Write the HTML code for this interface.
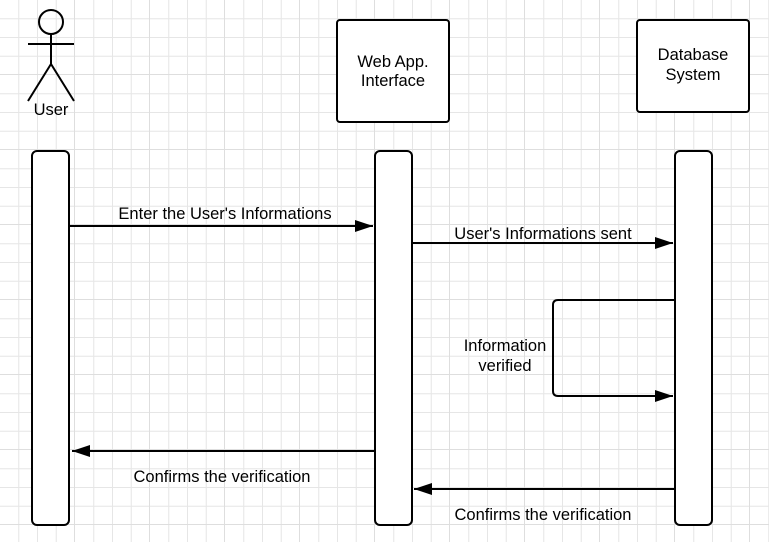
<!DOCTYPE html>
<html><head><style>body{margin:0;background:#fff}svg{display:block}text{font-family:"Liberation Sans",sans-serif;font-size:16.5px;fill:#000}</style></head><body>
<svg width="769" height="542" xmlns="http://www.w3.org/2000/svg">
<defs>
<pattern id="g" width="75" height="75" patternUnits="userSpaceOnUse">
<path d="M18.75 0V75M37.5 0V75M56.25 0V75M0 18.75H75M0 37.5H75M0 56.25H75" stroke="#e6e6e6" stroke-width="1" fill="none"/>
<path d="M75 0V75M0 75H75" stroke="#dedede" stroke-width="2" fill="none"/>
</pattern>
<marker id="a" markerWidth="18" markerHeight="12" refX="18" refY="6" orient="auto" markerUnits="userSpaceOnUse"><path d="M0 0L18 6L0 12Z" fill="#000"/></marker>
</defs>
<rect width="769" height="542" fill="url(#g)"/>
<g stroke="#000" stroke-width="2" fill="none">
<circle cx="51" cy="22" r="12"/>
<path d="M51 34V64M28 44H74M51 64L28 101M51 64L74 101"/>
</g>
<g stroke="#000" stroke-width="2" fill="#fff">
<rect x="337" y="20" width="112" height="102" rx="3"/>
<rect x="637" y="20" width="112" height="92" rx="3"/>
<rect x="32" y="151" width="37" height="374" rx="5"/>
<rect x="375" y="151" width="37" height="374" rx="5"/>
<rect x="675" y="151" width="37" height="374" rx="5"/>
</g>
<g stroke="#000" stroke-width="2" fill="none" marker-end="url(#a)">
<path d="M70 226H373"/>
<path d="M413 243H673"/>
<path d="M674 300H558Q553 300 553 305V391Q553 396 558 396H673"/>
<path d="M374 451H72"/>
<path d="M674 489H414"/>
</g>
<text x="51" y="115" text-anchor="middle">User</text>
<text x="393" y="67" text-anchor="middle">Web App.</text>
<text x="393" y="86" text-anchor="middle">Interface</text>
<text x="693" y="60" text-anchor="middle">Database</text>
<text x="693" y="80" text-anchor="middle">System</text>
<text x="225" y="219" text-anchor="middle">Enter the User's Informations</text>
<text x="543" y="239" text-anchor="middle">User's Informations sent</text>
<text x="505" y="351" text-anchor="middle">Information</text>
<text x="505" y="371" text-anchor="middle">verified</text>
<text x="222" y="482" text-anchor="middle">Confirms the verification</text>
<text x="543" y="520" text-anchor="middle">Confirms the verification</text>
</svg>
</body></html>
